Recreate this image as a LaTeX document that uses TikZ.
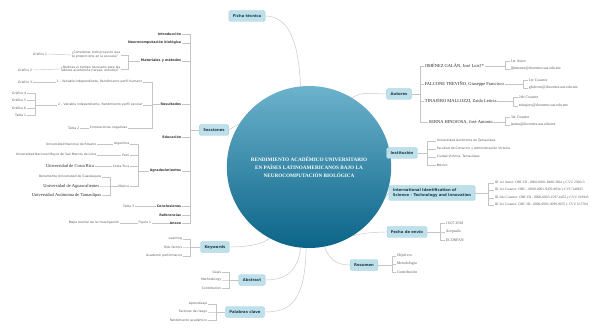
\documentclass[tikz,border=0pt]{standalone}
\usepackage{fontspec}
\setmainfont{Liberation Serif}
\setsansfont{DejaVu Sans}
\usepackage{tikz}
\usepackage{xcolor}
\usetikzlibrary{positioning, arrows.meta, shapes.geometric}

\definecolor{boxblue}{HTML}{BDE0EA}
\definecolor{boxedge}{HTML}{A3CFDC}
\definecolor{boxtext}{HTML}{1E3B48}
\definecolor{hubtop}{HTML}{6CB2CC}
\definecolor{hubbot}{HTML}{0B6488}
\definecolor{linegray}{HTML}{C4C4C4}
\definecolor{leafgray}{HTML}{5A5A5A}

\begin{document}
\begin{tikzpicture}[x=1pt, y=-1pt,
  hub/.style={ellipse, minimum width=134pt, minimum height=162pt, inner sep=0pt,
    top color=hubtop, bottom color=hubbot, draw=none, text=white, align=center,
    font=\rmfamily\bfseries\fontsize{5.2}{8}\selectfont},
  box/.style={rectangle, rounded corners=1.5pt, fill=boxblue, draw=boxedge, line width=0.3pt,
    text=boxtext, inner xsep=4pt, inner ysep=0pt, minimum height=11pt,
    font=\sffamily\bfseries\fontsize{3.8}{4.6}\selectfont},
  sec/.style={inner sep=0.6pt, text=black!80, font=\sffamily\bfseries\fontsize{3.3}{3.9}\selectfont},
  leaf/.style={inner sep=0.6pt, text=leafgray, font=\sffamily\fontsize{3.1}{3.8}\selectfont},
  sleaf/.style={inner sep=0.6pt, text=leafgray, font=\rmfamily\fontsize{3.9}{4.5}\selectfont},
  idleaf/.style={inner sep=0.6pt, text=leafgray, font=\rmfamily\fontsize{3.55}{4.2}\selectfont},
  serifname/.style={inner sep=0.6pt, text=black!85, font=\rmfamily\fontsize{4.5}{5}\selectfont},
  link/.style={draw=linegray, line width=0.45pt}]

\useasboundingbox (0,0) rectangle (597,331);

% ---------- CENTRO ----------

\node[hub] (hub) at (309,167) {RENDIMIENTO ACADÉMICO UNIVERSITARIO\\EN PAÍSES LATINOAMERICANOS BAJO LA\\NEUROCOMPUTACIÓN BIOLÓGICA};

\node[box] (fic) at (247,16) {Ficha técnica};
\node[box] (sec) at (214,130) {Secciones};
\node[box] (aut) at (399,94) {Autores};
\node[box] (ins) at (402,153) {Institución};
\node[box, align=left, minimum height=15pt] (iis) at (432,193) {International Identification of\\Science - Technology and Innovation};
\node[box] (fec) at (407,232) {Fecha de envío};
\node[box] (res) at (364,265) {Resumen};
\node[box] (key) at (215,247) {Keywords};
\node[box] (abs) at (252,280) {Abstract};
\node[box] (pal) at (245,312) {Palabras clave};

\draw[link] (fic.east) .. controls (292,16) and (299,50) .. (hub.96);
\draw[link] (sec.east) -- (hub.148);
\draw[link] (hub.58) .. controls (362,91) and (372,94) .. (aut.west);
\draw[link] (hub.12) -- (ins.west);
\draw[link] (hub.-22) -- (iis.west);
\draw[link] (hub.-58) .. controls (357,234) and (372,232) .. (fec.west);
\draw[link] (hub.-79) .. controls (330,262) and (340,265) .. (res.west);
\draw[link] (hub.241) .. controls (262,245) and (245,247) .. (key.east);
\draw[link] (hub.264) .. controls (298,272) and (285,280) .. (abs.east);
\draw[link] (hub.268) .. controls (305,302) and (290,312) .. (pal.east);

% ---------- SECCIONES ----------

\coordinate (sb) at (190,130);
\node[sec, anchor=east] (intro) at (182,34) {Introducción};
\node[sec, anchor=east] (neuro) at (182,43) {Neurocomputación biológica};
\node[sec, anchor=east] (mat) at (182,61) {Materiales y métodos};
\node[sec, anchor=east] (resu) at (182,104) {Resultados};
\node[sec, anchor=east] (edu) at (182,137) {Educación};
\node[sec, anchor=east] (agr) at (182,171) {Agradecimientos};
\node[sec, anchor=east] (conc) at (182,206) {Conclusiones};
\node[sec, anchor=east] (refe) at (182,215) {Referencias};
\node[sec, anchor=east] (anex) at (182,223) {Anexo};
\foreach \n in {intro,neuro,mat,resu,edu,agr,conc,refe,anex}
  \draw[link] (\n.east) -| (sb) -- (sec.west);

% materiales y metodos
\coordinate (mb) at (128,61);
\node[leaf, anchor=east, align=left] (q1) at (121,55) {¿Consideras todo proyecto que\\te proporcione en la escuela?};
\node[leaf, anchor=east, align=left] (q2) at (121,69) {¿Dedicas el tiempo necesario para las\\labores académica (tareas, estudio)?};
\node[leaf, anchor=east] (g1) at (48,54) {Gráfico 1};
\node[leaf, anchor=east] (g2) at (33,70) {Gráfico 2};
\draw[link] (q1.east) -| (mb) -- (mat.west);
\draw[link] (q2.east) -| (mb);
\draw[link] (g1.east) -- (q1.west);
\draw[link] (g2.east) -- (q2.west);

% resultados
\coordinate (rb) at (152,104);
\node[leaf, anchor=east] (r1) at (143,82) {1 – Variable independiente, Rendimiento perfil humano};
\node[leaf, anchor=east] (r2) at (143,105) {2 – Variable independiente, Rendimiento perfil escolar};
\node[leaf, anchor=east] (r3) at (128,128) {Correlaciones negativas};
\foreach \n in {r1,r2,r3}
  \draw[link] (\n.east) -| (rb) -- (resu.west);
\node[leaf, anchor=east] (g3) at (33,82) {Gráfico 3};
\draw[link] (g3.east) -- (r1.west);
\coordinate (r2b) at (35,105);
\node[leaf, anchor=east] (g4) at (27,93) {Gráfico 4};
\node[leaf, anchor=east] (g5) at (27,100) {Gráfico 5};
\node[leaf, anchor=east] (g6) at (27,108) {Gráfico 6};
\node[leaf, anchor=east] (t1) at (27,115) {Tabla 1};
\foreach \n in {g4,g5,g6,t1}
  \draw[link] (\n.east) -| (r2b) -- (r2.west);
\node[leaf, anchor=east] (t2) at (80,128) {Tabla 2};
\draw[link] (t2.east) -- (r3.west);

% agradecimientos
\coordinate (ab) at (138,171);
\node[leaf, anchor=east] (arg) at (130,144) {Argentina};
\node[leaf, anchor=east] (per) at (130,155) {Perú};
\node[leaf, anchor=east] (cri) at (130,166) {Costa Rica};
\node[leaf, anchor=east] (mex) at (130,186) {México};
\foreach \n in {arg,per,cri,mex}
  \draw[link] (\n.east) -| (ab) -- (agr.west);
\node[leaf, anchor=east] (unr) at (97,144) {Universidad Nacional de Rosario};
\node[leaf, anchor=east] (unm) at (97,155) {Universidad Nacional Mayor de San Marcos de Lima};
\node[serifname, anchor=east] (ucr) at (95,166) {Universidad de Costa Rica};
\draw[link] (unr.east) -- (arg.west);
\draw[link] (unm.east) -- (per.west);
\draw[link] (ucr.east) -- (cri.west);
\coordinate (xb) at (110,186);
\node[leaf, anchor=east] (bug) at (102,177) {Benemérita Universidad de Guadalajara};
\node[serifname, anchor=east] (uaa) at (100,186) {Universidad de Aguascalientes};
\node[serifname, anchor=east] (uat) at (102,195) {Universidad Autónoma de Tamaulipas};
\foreach \n in {bug,uaa,uat}
  \draw[link] (\n.east) -| (xb) -- (mex.west);

% conclusiones y anexo
\node[leaf, anchor=east] (t3) at (135,206) {Tabla 3};
\draw[link] (t3.east) -- (conc.west);
\node[leaf, anchor=east] (fig1) at (152,223) {Figura 1};
\node[leaf, anchor=east] (mapa) at (120,223) {Mapa mental de la investigación};
\draw[link] (fig1.east) -- (anex.west);
\draw[link] (mapa.east) -- (fig1.west);

% ---------- KEYWORDS / ABSTRACT / PALABRAS CLAVE ----------

\coordinate (kb) at (190,247);
\node[leaf, anchor=east] (lea) at (183,239) {Learning};
\node[leaf, anchor=east] (ris) at (183,247) {Risk factors};
\node[leaf, anchor=east] (aca) at (183,256) {Academic performance};
\foreach \n in {lea,ris,aca}
  \draw[link] (\n.east) -| (kb) -- (key.west);

\coordinate (bb) at (229,280);
\node[leaf, anchor=east] (goa) at (222,272) {Goals};
\node[leaf, anchor=east] (met) at (222,280) {Methodology};
\node[leaf, anchor=east] (con) at (222,288) {Contribution};
\foreach \n in {goa,met,con}
  \draw[link] (\n.east) -| (bb) -- (abs.west);

\coordinate (pb) at (216,312);
\node[leaf, anchor=east] (apr) at (208,304) {Aprendizaje};
\node[leaf, anchor=east] (fac) at (208,312) {Factores de riesgo};
\node[leaf, anchor=east] (ren) at (208,320) {Rendimiento académico};
\foreach \n in {apr,fac,ren}
  \draw[link] (\n.east) -| (pb) -- (pal.west);

% ---------- AUTORES ----------

\coordinate (ub) at (420,94);
\node[serifname, anchor=west] (a1) at (424,66) {JIMÉNEZ GALÁN, José Luis†*};
\node[serifname, anchor=west] (a2) at (424,84) {FALCONE TREVIÑO, Giuseppe Francisco};
\node[serifname, anchor=west] (a3) at (424,101) {TINAJERO MALLOZZI, Zaida Leticia};
\node[serifname, anchor=west] (a4) at (428,122) {SERNA HINOJOSA, José Antonio};
\foreach \n in {a1,a2,a3,a4}
  \draw[link] (aut.east) -- (ub) |- (\n.west);

\coordinate (a1b) at (505,66);
\node[sleaf, anchor=west] (a1r) at (510,61) {1er Autor};
\node[sleaf, anchor=west] (a1m) at (510,69) {jljimenez@docentes.uat.edu.mx};
\coordinate (a2b) at (523,84);
\node[sleaf, anchor=west] (a2r) at (528,80) {1er Coautor};
\node[sleaf, anchor=west] (a2m) at (528,88) {gfalcone@docentes.uat.edu.mx};
\coordinate (a3b) at (513,101);
\node[sleaf, anchor=west] (a3r) at (518,97) {2do Coautor};
\node[sleaf, anchor=west] (a3m) at (518,106) {ztinajero@docentes.uat.edu.mx};
\coordinate (a4b) at (505,122);
\node[sleaf, anchor=west] (a4r) at (510,117) {3er Coautor};
\node[sleaf, anchor=west] (a4m) at (510,125) {jserna@docentes.uat.edu.mx};
\foreach \n in {1,2,3,4} {
  \draw[link] (a\n.east) -- (a\n b) |- (a\n r.west);
  \draw[link] (a\n b) |- (a\n m.west);
}

% ---------- INSTITUCION / IDS / FECHA / RESUMEN ----------

\coordinate (ib) at (427,153);
\node[leaf, anchor=west] (i1) at (436,141) {Universidad Autónoma de Tamaulipas};
\node[leaf, anchor=west] (i2) at (436,149) {Facultad de Comercio y Administración Victoria};
\node[leaf, anchor=west] (i3) at (436,157) {Ciudad Victoria, Tamaulipas};
\node[leaf, anchor=west] (i4) at (436,165) {México};
\foreach \n in {i1,i2,i3,i4}
  \draw[link] (ins.east) -- (ib) |- (\n.west);

\coordinate (db) at (488,193);
\node[idleaf, anchor=west] (d1) at (494,183) {ID 1er Autor: ORC ID - 0000-0001-8400-3824 y CVU 230613};
\node[idleaf, anchor=west] (d2) at (494,190) {ID 1er Coautor: ORC - 0000-0001-9470-9834 y CVU 248815};
\node[idleaf, anchor=west] (d3) at (494,198) {ID 2do Coautor: ORC ID - 0000-0003-1597-4452 y CVU 616943};
\node[idleaf, anchor=west] (d4) at (494,205) {ID 3er Coautor: ORC ID - 0000-0003-3099-9055 y CVU 615704};
\foreach \n in {d1,d2,d3,d4}
  \draw[link] (iis.east) -- (db) |- (\n.west);

\coordinate (fb) at (440,232);
\node[sleaf, anchor=west] (f1) at (445,223) {16.07.2018};
\node[sleaf, anchor=west] (f2) at (445,232) {Aceptado};
\node[sleaf, anchor=west] (f3) at (445,240) {ECORFAN};
\foreach \n in {f1,f2,f3}
  \draw[link] (fec.east) -- (fb) |- (\n.west);

\coordinate (eb) at (392,265);
\node[sleaf, anchor=west] (e1) at (396,256) {Objetivos};
\node[sleaf, anchor=west] (e2) at (396,264) {Metodología};
\node[sleaf, anchor=west] (e3) at (396,272) {Contribución};
\foreach \n in {e1,e2,e3}
  \draw[link] (res.east) -- (eb) |- (\n.west);

\end{tikzpicture}
\end{document}
